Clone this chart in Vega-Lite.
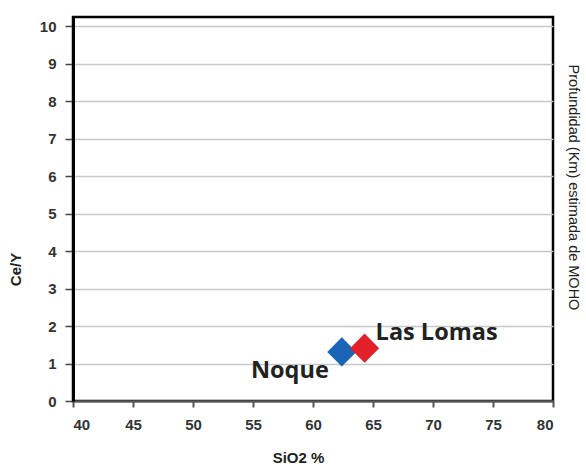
{
  "$schema": "https://vega.github.io/schema/vega-lite/v6.json",
  "width": 480,
  "height": 384,
  "autosize": {"type": "none"},
  "padding": {"left": 73, "top": 17, "right": 33, "bottom": 68},
  "background": "white",
  "config": {
    "view": {"stroke": "black", "strokeWidth": 2.5},
    "axis": {"labelFont": "Liberation Sans", "labelFontWeight": "bold", "labelColor": "#333", "labelFontSize": 15, "titleFont": "Liberation Sans", "titleFontWeight": "bold", "titleColor": "#222", "titleFontSize": 15}
  },
  "data": {"values": [
    {"site": "Noque", "SiO2": 62.4, "CeY": 1.31},
    {"site": "Las Lomas", "SiO2": 64.3, "CeY": 1.41}
  ]},
  "layer": [
    {
      "mark": {"type": "point", "shape": "diamond", "filled": true, "size": 850, "opacity": 1},
      "encoding": {
        "x": {"field": "SiO2", "type": "quantitative", "scale": {"domain": [40, 80], "nice": false},
          "axis": {"title": "SiO2 %", "values": [40,45,50,55,60,65,70,75,80], "grid": false, "domainColor": "#555", "domainWidth": 2, "tickColor": "#555", "tickWidth": 2, "tickSize": 6, "labelPadding": 10, "titlePadding": 18, "titleX": 225}},
        "y": {"field": "CeY", "type": "quantitative", "scale": {"domain": [0, 10.25], "nice": false},
          "axis": {"title": "Ce/Y", "values": [0,1,2,3,4,5,6,7,8,9,10], "grid": true, "gridColor": "#c8c8c8", "gridWidth": 1.5, "domainColor": "black", "domainWidth": 3, "tickColor": "#444", "tickWidth": 1.5, "tickSize": 8, "labelPadding": 9, "titlePadding": 16, "titleY": 252}},
        "color": {"field": "site", "type": "nominal", "scale": {"domain": ["Noque", "Las Lomas"], "range": ["#1a64b8", "#e3202a"]}, "legend": null}
      }
    },
    {
      "transform": [{"filter": "datum.site == 'Noque'"}],
      "mark": {"type": "text", "align": "right", "baseline": "middle", "dx": -13, "dy": 19, "font": "Open Sans", "fontWeight": "bold", "fontSize": 23.5, "color": "#222"},
      "encoding": {
        "x": {"field": "SiO2", "type": "quantitative"},
        "y": {"field": "CeY", "type": "quantitative", "axis": {"orient": "right", "title": "Profundidad (Km) estimada de MOHO", "titleFontWeight": "normal", "titleFont": "Liberation Sans", "titleFontSize": 14.5, "titleAngle": 90, "titlePadding": 12, "titleY": 170, "labels": false, "ticks": false, "domain": false, "grid": false}},
        "text": {"field": "site"}
      }
    },
    {
      "transform": [{"filter": "datum.site == 'Las Lomas'"}],
      "mark": {"type": "text", "align": "left", "baseline": "middle", "dx": 11, "dy": -15, "font": "Open Sans", "fontWeight": "bold", "fontSize": 23.5, "color": "#222"},
      "encoding": {
        "x": {"field": "SiO2", "type": "quantitative"},
        "y": {"field": "CeY", "type": "quantitative", "axis": null},
        "text": {"field": "site"}
      }
    }
  ],
  "resolve": {"axis": {"y": "independent"}}
}
